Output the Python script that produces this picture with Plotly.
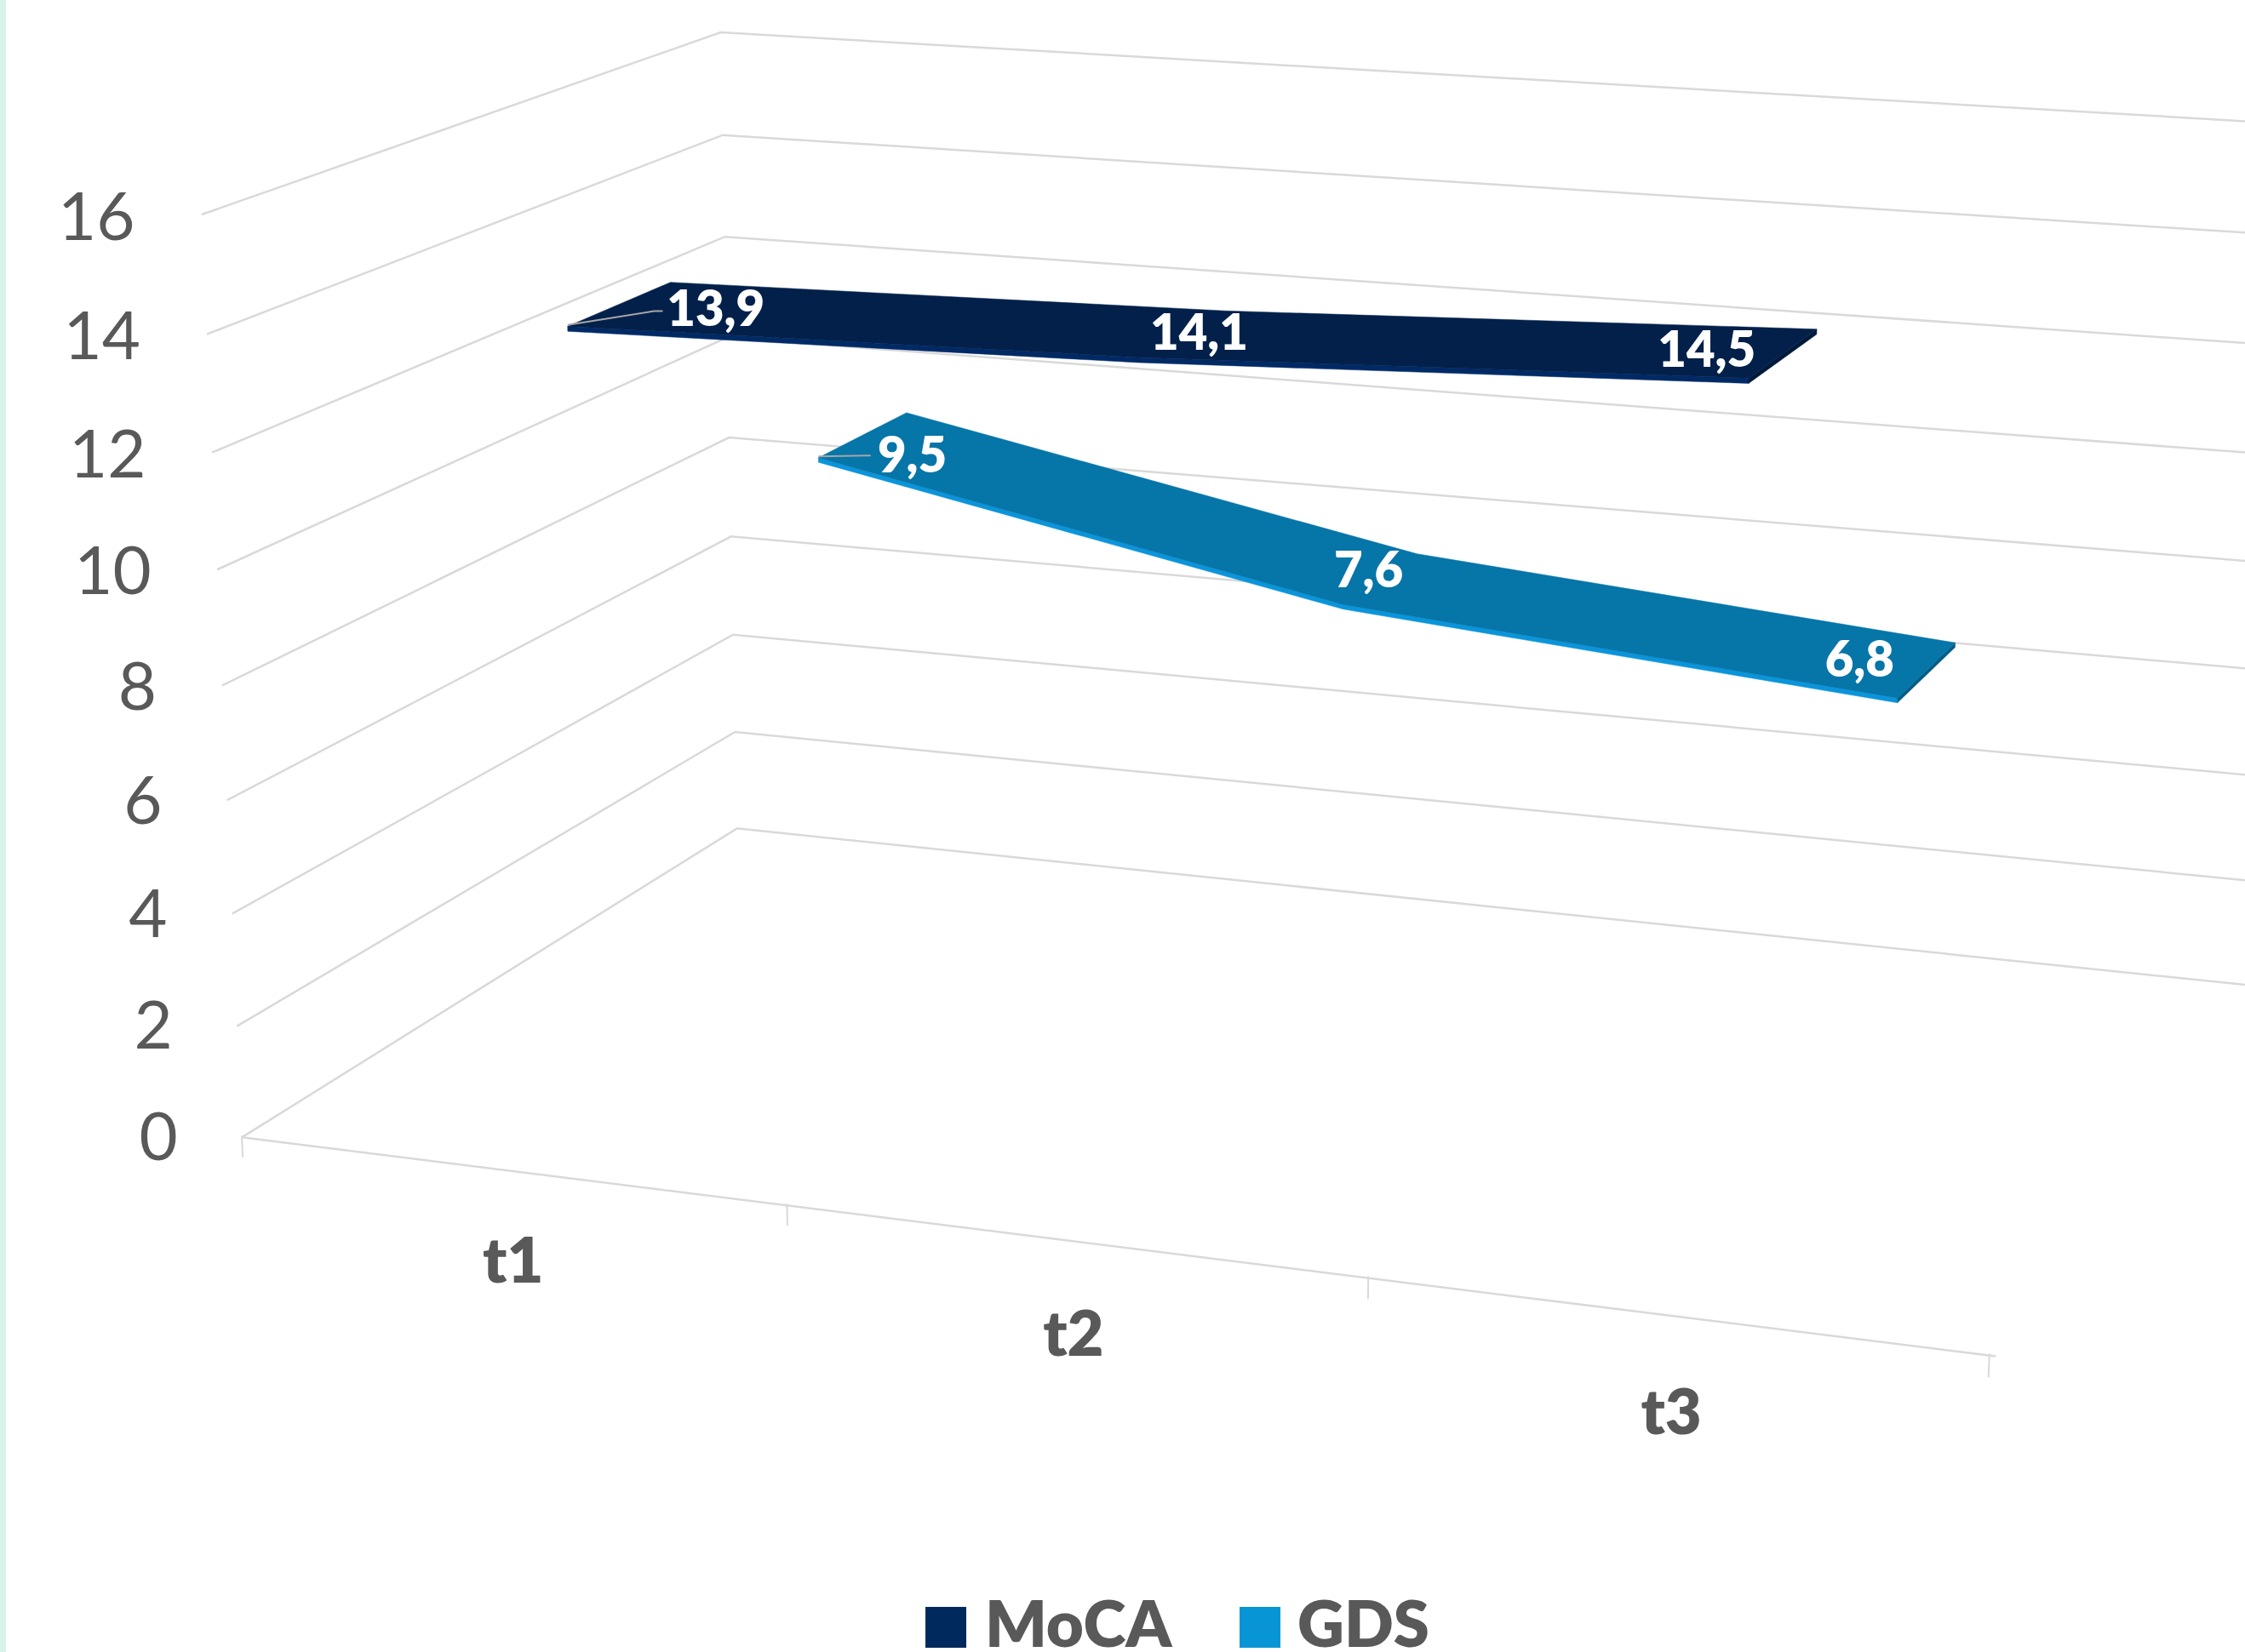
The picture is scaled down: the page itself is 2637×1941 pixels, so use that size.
import plotly.graph_objects as go

# ---- data ----
categories = ["t1", "t2", "t3"]
series_names = ["MoCA", "GDS"]
moca = [13.9, 14.1, 14.5]
gds = [9.5, 7.6, 6.8]
moca_labels = ["13,9", "14,1", "14,5"]
gds_labels = ["9,5", "7,6", "6,8"]
value_ticks = [0, 2, 4, 6, 8, 10, 12, 14, 16]
category_pos = [0.5, 1.5, 2.5]

# ---- perspective of the chart box, calibrated against its walls ----
# (category position / 3, depth 0..1, value / 16, 1) -> canvas position
PX = [1091.05293, 432.63976, -33.78668, 168.91421]
PY = [64.18436, -118.2164, -650.85416, 794.60791]
PW = [-0.09317, 0.16865, -0.04071, 1.0]
CANVAS_W, CANVAS_H = 1568.0, 1154.16

FONT = "Lato, sans-serif"
GREY = "#595959"
GRID = "#D9D9D9"
HEAVY = 800


def project(c, d, v):
    a = (c / 3.0, d, v / 16.0, 1.0)
    w = sum(p * q for p, q in zip(PW, a))
    return sum(p * q for p, q in zip(PX, a)) / w, sum(p * q for p, q in zip(PY, a)) / w


def path(points):
    xy = [project(*p) for p in points]
    return [q[0] for q in xy], [q[1] for q in xy]


def polyline(points, color, width):
    x, y = path(points)
    return go.Scatter(x=x, y=y, mode="lines", line=dict(color=color, width=width),
                      hoverinfo="skip", showlegend=False, cliponaxis=True)


def polygon(points, color):
    x, y = path(list(points) + [points[0]])
    return go.Scatter(x=x, y=y, mode="lines", fill="toself", fillcolor=color,
                      line=dict(color=color, width=0.5), hoverinfo="skip", showlegend=False)


def ribbon(values, d0, d1, top, front, side, thick=0.085):
    pos = list(zip(category_pos, values))
    out = []
    out.append(polygon([(c, d0, v) for c, v in pos] + [(c, d0, v - thick) for c, v in reversed(pos)], front))
    c, v = pos[-1]
    out.append(polygon([(c, d0, v), (c, d1, v), (c, d1, v - thick), (c, d0, v - thick)], side))
    out.append(polygon([(c, d0, v) for c, v in pos] + [(c, d1, v) for c, v in reversed(pos)], top))
    return out


def point_labels(values, texts, offsets, depths, leader_dx, leader_dy, d0):
    lab = [project(c + o, d, v) for c, o, d, v in zip(category_pos, offsets, depths, values)]
    sx, sy = project(category_pos[0], d0, values[0])
    ex, ey = lab[0]
    leader = go.Scatter(x=[sx, ex + leader_dx - 6, ex + leader_dx], y=[sy - 1, ey + leader_dy, ey + leader_dy],
                        mode="lines", line=dict(color="#A6A6A6", width=2), hoverinfo="skip", showlegend=False)
    text = go.Scatter(x=[q[0] for q in lab], y=[q[1] for q in lab], mode="text", text=texts,
                      textposition="middle center",
                      textfont=dict(family=FONT, size=58, color="white", weight=HEAVY),
                      hoverinfo="skip", showlegend=False)
    return leader, text


fig = go.Figure()

# walls: value gridlines run along the side wall, then along the back wall
for v in value_ticks:
    fig.add_trace(polyline([(0, 0, v), (0, 1, v), (3, 1, v)], GRID, 2.5))

# floor front edge and its category ticks
fig.add_trace(polyline([(0, 0, 0), (3.01, 0, 0)], GRID, 2.5))
for c in range(4):
    fig.add_trace(polyline([(c, 0, 0.03), (c, 0, -0.36)], GRID, 2))

for t in ribbon(moca, 0.15, 0.348, "#02204A", "#002A66", "#001A3C"):
    fig.add_trace(t)
for t in ribbon(gds, 0.649, 0.851, "#0675A8", "#0A95DB", "#055C85"):
    fig.add_trace(t)

for tr in point_labels(moca, moca_labels, [0.185, 0.037, -0.11], [0.238, 0.238, 0.225], -37, -2, 0.15):
    fig.add_trace(tr)
for tr in point_labels(gds, gds_labels, [0.165, -0.03, -0.12], [0.67, 0.76, 0.75], -29, -3, 0.649):
    fig.add_trace(tr)

# value axis labels
tick_xy = [project(-0.13, 0, v) for v in value_ticks]
fig.add_trace(go.Scatter(x=[q[0] + 3 for q in tick_xy], y=[q[1] + 10 for q in tick_xy], mode="text",
                         text=[str(v) for v in value_ticks], textposition="middle left",
                         textfont=dict(family=FONT, size=78, color=GREY),
                         hoverinfo="skip", showlegend=False))

# category axis labels
cat_xy = [project(c, 0, -1.72) for c in category_pos]
fig.add_trace(go.Scatter(x=[q[0] for q in cat_xy], y=[q[1] for q in cat_xy], mode="text", text=categories,
                         textposition="middle center",
                         textfont=dict(family=FONT, size=74, color=GREY, weight=HEAVY),
                         hoverinfo="skip", showlegend=False))

W, H = 2637, 1941
SCALE = CANVAS_W / W

# legend names
fig.add_trace(go.Scatter(x=[1157 * SCALE, 1524 * SCALE], y=[1139, 1139], mode="text", text=series_names,
                         textposition="middle right",
                         textfont=dict(family=FONT, size=76, color=GREY, weight=HEAVY),
                         hoverinfo="skip", showlegend=False, cliponaxis=False))


def rect(x0, x1, y0, y1, color):
    return dict(type="rect", xref="paper", yref="paper", x0=x0 / W, x1=x1 / W,
                y0=1 - y1 / H, y1=1 - y0 / H, fillcolor=color, line=dict(width=0), layer="below")


fig.update_layout(
    width=W, height=H, margin=dict(l=0, r=0, t=0, b=0, pad=0),
    paper_bgcolor="white", plot_bgcolor="white", showlegend=False,
    xaxis=dict(range=[0, CANVAS_W], visible=False, fixedrange=True),
    yaxis=dict(range=[CANVAS_H, 0], visible=False, fixedrange=True),
    shapes=[
        rect(0, 7, 0, H, "#D6F2EB"),
        rect(1087, 1135, 1888, 1936, "#002A5E"),
        rect(1456, 1504, 1888, 1936, "#0895D6"),
    ],
)
fig.write_html("out.html", config={"displayModeBar": False},
               post_script="document.body.style.margin='0';document.body.style.overflow='hidden';")
